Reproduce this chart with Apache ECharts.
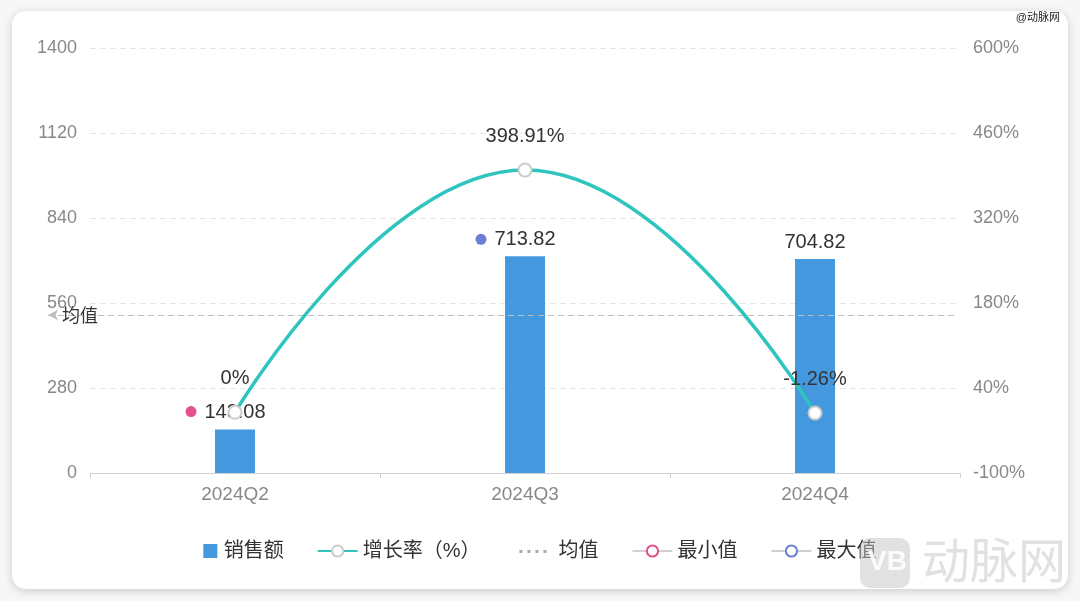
<!DOCTYPE html>
<html>
<head>
<meta charset="utf-8">
<script src="https://cdn.jsdelivr.net/npm/echarts@6/dist/echarts.min.js"></script>
<style>
  html, body { margin: 0; padding: 0; background: #f7f7f7; }
  #card { position: absolute; left: 12px; top: 11px; width: 1056px; height: 578px; background: #fff; border-radius: 14px; box-shadow: 0 2px 10px rgba(0,0,0,0.18); }
  #chart { position: absolute; left: 0; top: 0; width: 1080px; height: 601px; }
</style>
</head>
<body>
<div id="card"></div>
<div id="chart"></div>
<script>
const categories = ['2024Q2', '2024Q3', '2024Q4'];
const salesValues = [143.08, 713.82, 704.82];
const growthValues = [0, 398.91, -1.26];
const leftTicks = { min: 0, max: 1400, interval: 280 };
const rightTicks = { min: -100, max: 600, interval: 140 };

const FONT = '"Liberation Sans", "Noto Sans CJK SC", sans-serif';
const meanValue = salesValues.reduce((a, b) => a + b, 0) / salesValues.length;
const minVal = Math.min(...salesValues);
const maxVal = Math.max(...salesValues);
const minData = salesValues.map(v => v === minVal ? { value: v, symbol: 'circle' } : '-');
const maxData = salesValues.map(v => v === maxVal ? { value: v, symbol: 'circle' } : '-');
const emptyData = salesValues.map(() => '-');

const chart = echarts.init(document.getElementById('chart'), null, { renderer: 'canvas' });
chart.setOption({
  backgroundColor: 'transparent',
  textStyle: { fontFamily: FONT },
  grid: { left: 90, right: 120, top: 48, bottom: 128 },
  legend: {
    top: 536, left: 175,
    itemWidth: 40, itemHeight: 14, itemGap: 33,
    textStyle: { fontSize: 20, color: '#333', fontFamily: FONT },
    data: [
      { name: '销售额', icon: 'path://M0,0 M25,0H40V15H25Z' },
      { name: '增长率（%）' },
      { name: '均值', icon: 'path://M0,0 M40,14 M6,6h3v3h-3z M14,6h3v3h-3z M22,6h3v3h-3z M30,6h3v3h-3z', itemStyle: { color: '#aaa' } },
      { name: '最小值' },
      { name: '最大值' }
    ]
  },
  graphic: [
    { type: 'text', right: 20, top: 12, style: { text: '@动脉网', fontSize: 11, fill: '#222', fontFamily: FONT } },
    { type: 'rect', left: 860, top: 538, shape: { width: 50, height: 50, r: 10 }, style: { fill: 'rgba(195,195,195,0.5)' }, z: 100 },
    { type: 'text', left: 868, top: 548, style: { text: 'VB', fontSize: 28, fontWeight: 'bold', fill: 'rgba(255,255,255,0.9)', fontFamily: FONT }, z: 101 },
    { type: 'text', left: 922, top: 536, style: { text: '动脉网', fontSize: 48, fill: 'rgba(195,195,195,0.5)', fontFamily: '"Noto Sans CJK SC", sans-serif' }, z: 100 }
  ],
  xAxis: {
    type: 'category',
    data: categories,
    axisLine: { lineStyle: { color: '#cfcfcf' } },
    axisTick: { show: true, length: 5, lineStyle: { color: '#cfcfcf' } },
    axisLabel: { color: '#888', fontSize: 19, margin: 12 }
  },
  yAxis: [
    {
      type: 'value', min: leftTicks.min, max: leftTicks.max, interval: leftTicks.interval,
      axisLine: { show: false }, axisTick: { show: false },
      axisLabel: { color: '#888', fontSize: 18, margin: 13, formatter: v => String(v) },
      splitLine: { lineStyle: { color: '#e6e6e6', type: [6, 4] } }
    },
    {
      type: 'value', min: rightTicks.min, max: rightTicks.max, interval: rightTicks.interval,
      axisLine: { show: false }, axisTick: { show: false },
      axisLabel: { color: '#888', fontSize: 18, margin: 13, formatter: v => v + '%' },
      splitLine: { show: false }
    }
  ],
  series: [
    {
      name: '销售额', type: 'bar', data: salesValues, barWidth: 40,
      itemStyle: { color: '#4498de' },
      label: { show: true, position: 'top', distance: 7, fontSize: 20, color: '#333' },
      markLine: {
        silent: true,
        symbol: ['arrow', 'none'], symbolSize: [8, 10],
        lineStyle: { type: [6, 4], color: '#bdbdbd', width: 1 },
        label: { show: true, formatter: '均值', position: 'insideStart', verticalAlign: 'middle', distance: 14, fontSize: 18, color: '#333', offset: [0, 2] },
        data: [[{ yAxis: meanValue, x: 48 }, { yAxis: meanValue, x: 958 }]]
      }
    },
    {
      name: '增长率（%）', type: 'line', yAxisIndex: 1, data: growthValues, smooth: true, z: 5,
      symbol: 'emptyCircle', symbolSize: 13,
      lineStyle: { color: '#30c4bf', width: 3.5 },
      itemStyle: { color: '#cccccc', borderWidth: 2.5 },
      label: { show: true, position: 'top', distance: 16, fontSize: 20, color: '#333', formatter: '{c}%' }
    },
    {
      name: '均值', type: 'line', data: emptyData, symbol: 'none',
      lineStyle: { color: '#aaa', type: 'dotted', width: 2 },
      itemStyle: { color: '#aaa' }
    },
    {
      name: '最小值', type: 'line', data: minData, symbol: 'emptyCircle', symbolSize: 11,
      symbolOffset: [-44, -18], z: 6,
      lineStyle: { color: '#d0d0d0', width: 2 },
      itemStyle: { color: '#e3508c', borderWidth: 2.5 }
    },
    {
      name: '最大值', type: 'line', data: maxData, symbol: 'emptyCircle', symbolSize: 11,
      symbolOffset: [-44, -17], z: 6,
      lineStyle: { color: '#d0d0d0', width: 2 },
      itemStyle: { color: '#6b7fd7', borderWidth: 2.5 }
    }
  ]
});
</script>
</body>
</html>
